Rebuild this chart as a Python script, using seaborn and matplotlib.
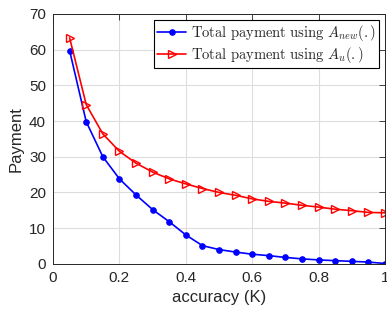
import matplotlib
matplotlib.use('Agg')
import matplotlib.pyplot as plt
import seaborn as sns
import pandas as pd

# datos
accuracy = [0.05, 0.10, 0.15, 0.20, 0.25, 0.30, 0.35, 0.40, 0.45, 0.50,
            0.55, 0.60, 0.65, 0.70, 0.75, 0.80, 0.85, 0.90, 0.95, 1.00]
pago_new = [59.7, 39.8, 30.0, 23.8, 19.3, 15.2, 11.8, 8.1, 5.1, 4.0,
            3.3, 2.7, 2.3, 1.8, 1.4, 1.1, 0.9, 0.7, 0.5, 0.1]
pago_u = [63.3, 44.6, 36.4, 31.5, 28.2, 25.7, 23.8, 22.4, 21.1, 20.0,
          19.2, 18.2, 17.5, 17.0, 16.4, 15.9, 15.3, 14.9, 14.4, 14.3]
etiquetas = [r'$\mathrm{Total\ payment\ using\ }A_{new}(.)$',
             r'$\mathrm{Total\ payment\ using\ }A_{u}(.)$']

df = pd.DataFrame({'acc': accuracy, 'new': pago_new, 'u': pago_u})

sns.set_style('whitegrid')  # estilo de la grafica
plt.rcParams['font.family'] = ['Liberation Sans', 'DejaVu Sans']
plt.rcParams['mathtext.fontset'] = 'cm'

fig = plt.figure(figsize=(3.87, 3.16), dpi=100)
ax = fig.add_axes([0.137, 0.165, 0.858, 0.791])

sns.lineplot(data=df, x='acc', y='new', ax=ax, color='blue', marker='o',
             markersize=4, markeredgecolor='blue', linewidth=1.2, label=etiquetas[0])
sns.lineplot(data=df, x='acc', y='u', ax=ax, color='red', marker='>',
             markersize=5.5, markerfacecolor='none', markeredgecolor='red',
             markeredgewidth=1.0, linewidth=1.2, label=etiquetas[1])

ax.set_xlim(0, 1)
ax.set_ylim(0, 70)
ax.set_xticks([0, 0.2, 0.4, 0.6, 0.8, 1])
ax.set_xticklabels(['0', '0.2', '0.4', '0.6', '0.8', '1'])
ax.set_yticks(range(0, 71, 10))
ax.set_xlabel('accuracy (K)', fontsize=12, color='#262626')
ax.set_ylabel('Payment', fontsize=12, color='#262626')
ax.tick_params(axis='both', labelsize=11, colors='#262626', direction='in',
               length=4, width=0.6, top=True, right=True, pad=5)
ax.grid(True, color='#dddddd', linewidth=0.8)
for s in ax.spines.values():
    s.set_visible(True)
    s.set_color('#262626')
    s.set_linewidth(0.7)

leg = ax.legend(loc='upper right', fontsize=10.5, frameon=True, fancybox=False,
                edgecolor='black', framealpha=1, borderpad=0.2, labelspacing=0.1,
                handlelength=2.0, handletextpad=0.3, borderaxespad=0.45)
leg.get_frame().set_linewidth(0.8)

plt.savefig('out.png', dpi=100)
